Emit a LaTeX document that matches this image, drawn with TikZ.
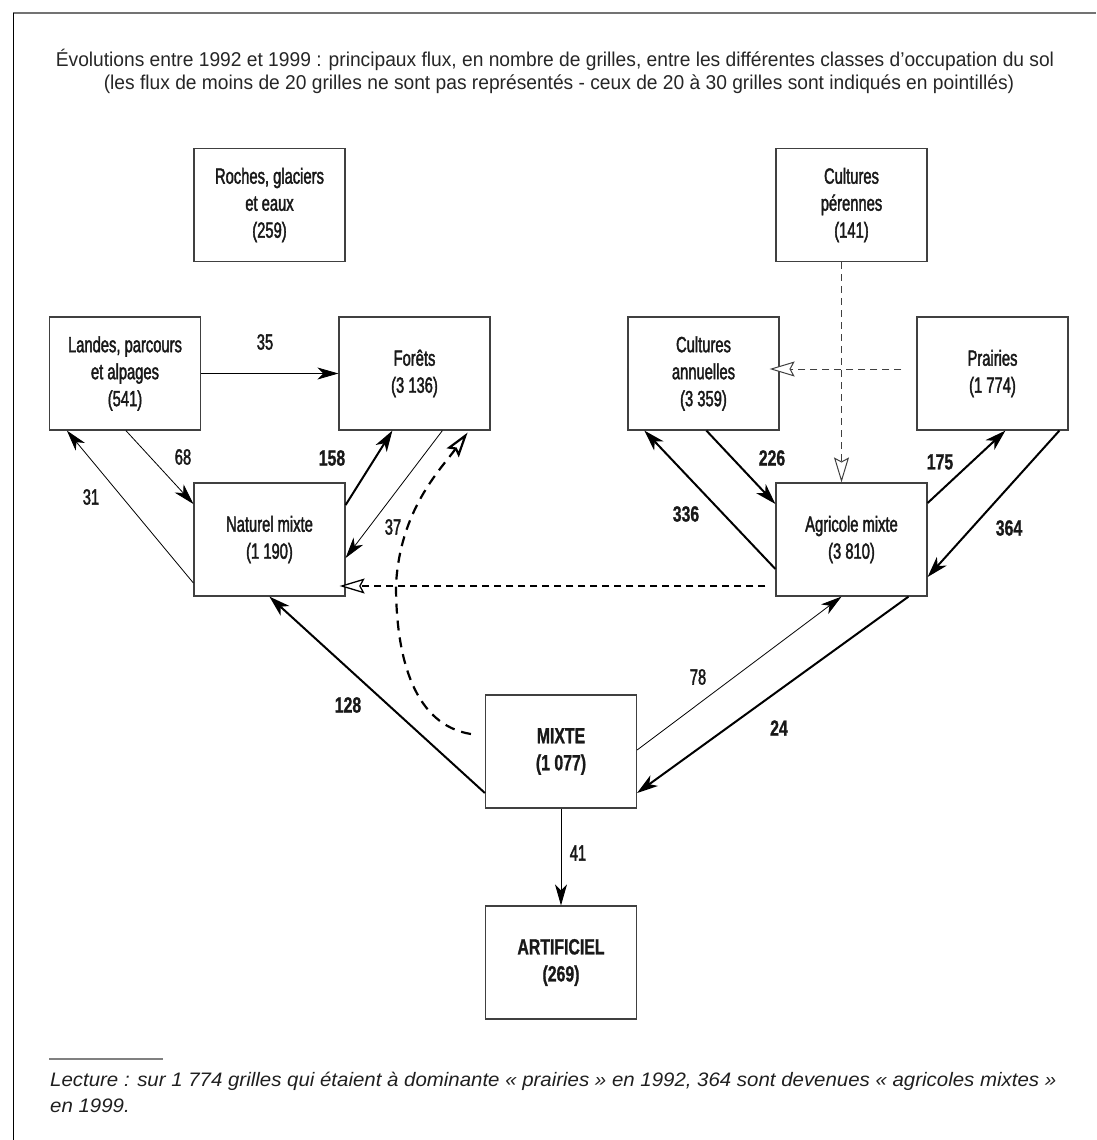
\documentclass[tikz,border=0pt]{standalone}
\usepackage{fontspec}
\setmainfont{Liberation Sans}
\newfontfamily\titlefont[FakeStretch=0.96]{Liberation Sans}
\newfontfamily\notefont[FakeStretch=1.048]{Liberation Sans Italic}
\newfontfamily\boxfont[FakeStretch=0.67,FakeBold=1.8]{Liberation Sans}
\newfontfamily\boxbfont[FakeStretch=0.72,FakeBold=1.0]{Liberation Sans Bold}
\usetikzlibrary{arrows.meta,calc}
\definecolor{boxgray}{gray}{0.25}
\definecolor{txt}{gray}{0.1}
\tikzset{
  box/.style={draw=boxgray, line width=1.2pt, minimum width=151pt, minimum height=113pt,
    inner sep=0pt, align=center, text=txt, font=\boxfont\fontsize{22}{27}\selectfont},
  lbl/.style={inner sep=0pt, text=txt, font=\boxfont\fontsize{22}{27}\selectfont},
  blbl/.style={inner sep=0pt, text=txt, font=\boxbfont\fontsize{22}{27}\selectfont},
  thinarr/.style={line width=0.8pt, -{Stealth[length=21pt,width=12pt,inset=6pt]}},
  thickarr/.style={line width=2pt, -{Stealth[length=21pt,width=13pt,inset=6pt]}},
  opentip/.style={-{Stealth[open,fill=white,length=25pt,width=15pt,inset=4pt]}},
  graydash/.style={opentip, draw=black!75, line width=1pt, dash pattern=on 7pt off 5pt},
  blackdash/.style={opentip, line width=1.3pt, dash pattern=on 7pt off 5pt},
  curvedash/.style={opentip, line width=2.2pt, dash pattern=on 10pt off 7pt},
}
\begin{document}
\begin{tikzpicture}[x=1pt,y=-1pt]
\useasboundingbox (0,0) rectangle (1096,1140);
% frame
\coordinate (f0) at (13,13);
\coordinate (f1) at (1096,13);
\coordinate (f2) at (13,1140);
\draw[black!55, line width=1.6pt] (f0) -- (f1);
\draw[black, line width=1pt] (f0) -- (f2);
% title
\node[text=black!85, font=\titlefont\fontsize{20}{24}\selectfont, inner sep=0pt] (t1) at (555,60)
  {Évolutions entre 1992 et 1999 : principaux flux, en nombre de grilles, entre les différentes classes d’occupation du sol};
\node[text=black!85, font=\titlefont\fontsize{20}{24}\selectfont, inner sep=0pt] (t2) at (559,84)
  {(les flux de moins de 20 grilles ne sont pas représentés - ceux de 20 à 30 grilles sont indiqués en pointillés)};
% boxes
\node[box] (rg) at (269.5,205) {Roches, glaciers\\et eaux\\(259)};
\node[box] (la) at (125,373.5) {Landes, parcours\\et alpages\\(541)};
\node[box] (fo) at (414.5,373.5) {Forêts\\(3 136)};
\node[box] (nm) at (269.5,539.5) {Naturel mixte\\(1 190)};
\node[box] (cp) at (851.5,205) {Cultures\\pérennes\\(141)};
\node[box] (ca) at (703.5,373.5) {Cultures\\annuelles\\(3 359)};
\node[box] (pr) at (992.5,373.5) {Prairies\\(1 774)};
\node[box] (am) at (851.5,539.5) {Agricole mixte\\(3 810)};
\node[box, font=\boxbfont\fontsize{22}{27}\selectfont] (mx) at (561,751.5) {MIXTE\\(1 077)};
\node[box, font=\boxbfont\fontsize{22}{27}\selectfont] (ar) at (561,962.5) {ARTIFICIEL\\(269)};
% solid flows, left
\draw[thinarr] (la.east) -- (fo.west);
\draw[thinarr] ([xshift=77pt]la.south west) -- ([yshift=35.5pt]nm.west);
\draw[thinarr] ([yshift=-43.5pt]nm.west) -- ([xshift=18pt]la.south west);
\draw[thickarr] ([yshift=34.5pt]nm.east) -- ([xshift=54pt]fo.south west);
\draw[thinarr] ([xshift=104pt]fo.south west) -- ([yshift=-18.5pt]nm.east);
% solid flows, right
\draw[thickarr] ([yshift=-29.5pt]am.west) -- ([xshift=17pt]ca.south west);
\draw[thickarr] ([xshift=79pt]ca.south west) -- ([yshift=35.5pt]am.west);
\draw[thickarr] ([yshift=36.5pt]am.east) -- ([xshift=89pt]pr.south west);
\draw[thickarr] ([xshift=143pt]pr.south west) -- ([yshift=-37.5pt]am.east);
% solid flows, bottom
\draw[thickarr] ([yshift=-41.5pt]mx.west) -- ([xshift=76pt]nm.south west);
\draw[thinarr] ([yshift=1.5pt]mx.east) -- ([xshift=-10pt]am.south);
\draw[thickarr] ([xshift=57pt]am.south) -- ([yshift=-41.5pt]mx.east);
\draw[thinarr] (mx.south) -- (ar.north);
% dashed flows
\draw[graydash] ([xshift=-10pt]cp.south) -- ([xshift=-10pt]am.north);
\draw[graydash] ([xshift=-15pt,yshift=4.5pt]pr.west) -- ([xshift=-10pt,yshift=4.5pt]ca.east);
\draw[blackdash] ([xshift=-10pt,yshift=-46.5pt]am.west) -- ([xshift=-6pt,yshift=-46.5pt]nm.east);
\coordinate (cv) at (396,585);
\draw[curvedash] ([xshift=-14pt,yshift=17.5pt]mx.west) .. controls (415,725) and (396,660) .. (cv)
   .. controls (400,510) and (440,470) .. ([xshift=-23pt,yshift=-2pt]fo.south east);
% flow labels
\node[lbl]  (l35)  at (265,342) {35};
\node[lbl]  (l68)  at (183,457) {68};
\node[lbl]  (l31)  at (91,497)  {31};
\node[blbl] (l158) at (332,458) {158};
\node[lbl]  (l37)  at (393,527) {37};
\node[blbl] (l336) at (686,514) {336};
\node[blbl] (l226) at (772,458) {226};
\node[blbl] (l175) at (940,462) {175};
\node[blbl] (l364) at (1009,528) {364};
\node[blbl] (l128) at (348,705) {128};
\node[lbl]  (l78)  at (698,677) {78};
\node[blbl] (l24)  at (779,728) {24};
\node[lbl]  (l41)  at (578,853) {41};
% reading note
\coordinate (s0) at (49,1059);
\coordinate (s1) at (163,1059);
\draw[black!50, line width=1.5pt] (s0) -- (s1);
\node[anchor=base west, inner sep=0pt, text=black!88, font=\notefont\fontsize{19.5}{24}\selectfont] (n1) at (50,1086)
  {Lecture : sur 1 774 grilles qui étaient à dominante « prairies » en 1992, 364 sont devenues « agricoles mixtes »};
\node[anchor=base west, inner sep=0pt, text=black!88, font=\notefont\fontsize{19.5}{24}\selectfont] (n2) at (50,1112)
  {en 1999.};
\end{tikzpicture}
\end{document}
